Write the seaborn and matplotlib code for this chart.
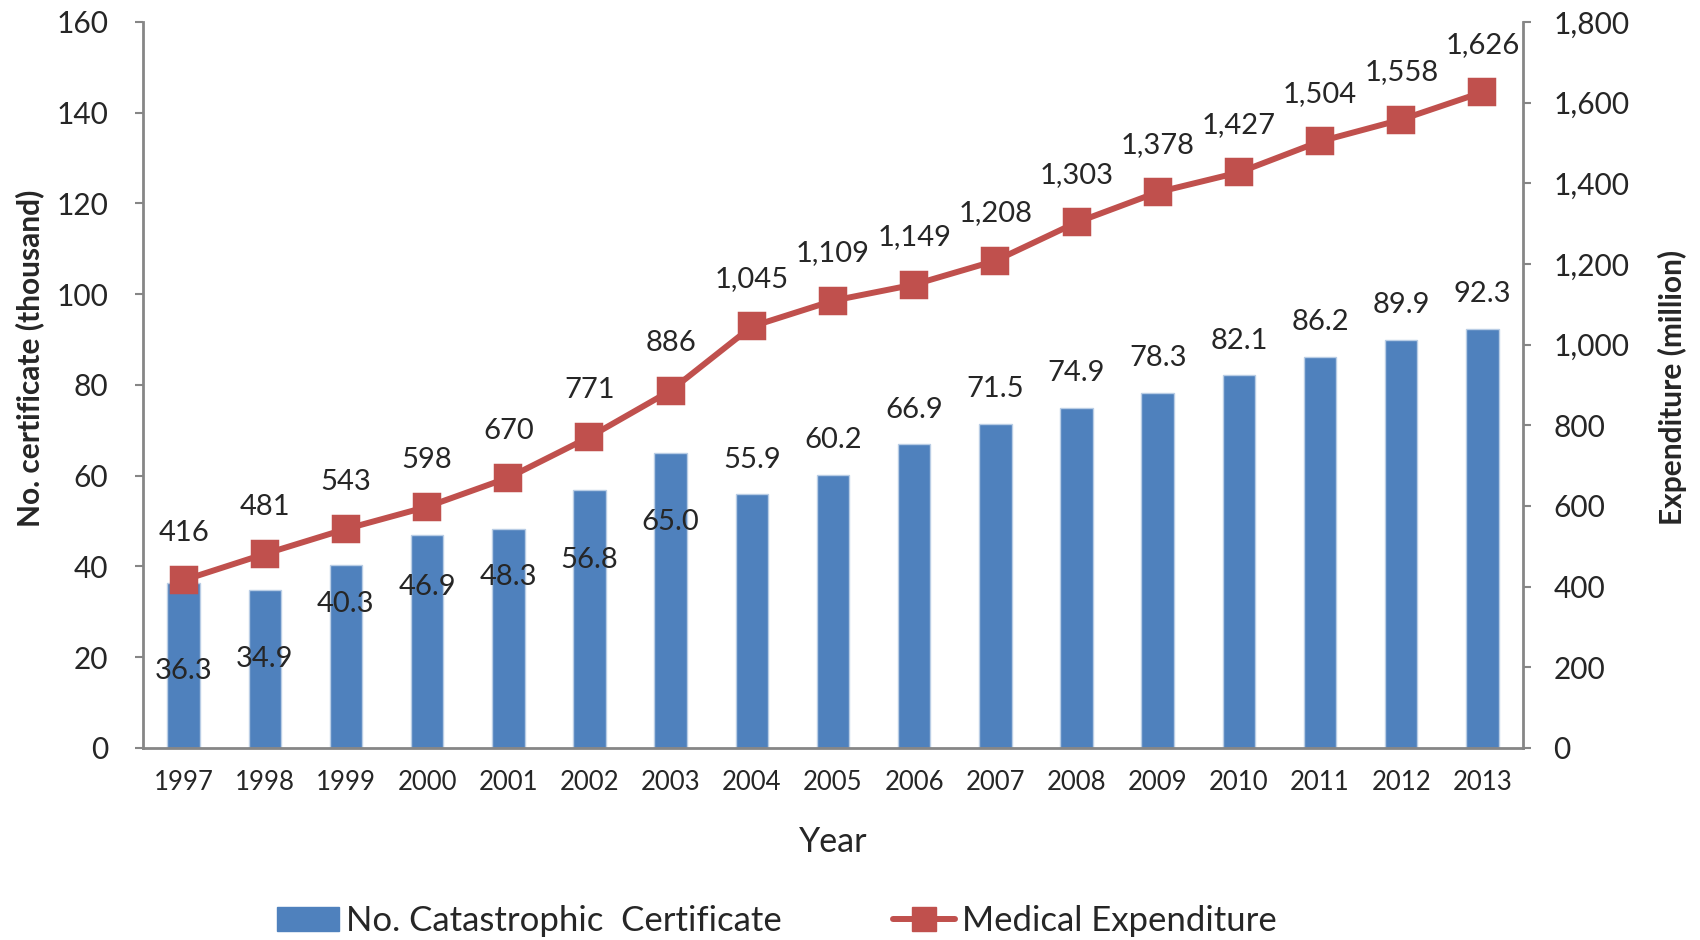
import numpy as np
import pandas as pd
import seaborn as sns
import matplotlib.pyplot as plt
from matplotlib.patches import Patch
from matplotlib.lines import Line2D
from matplotlib.ticker import FuncFormatter, FixedLocator

# chart values
years = ['1997', '1998', '1999', '2000', '2001', '2002', '2003', '2004', '2005',
         '2006', '2007', '2008', '2009', '2010', '2011', '2012', '2013']
certificates = [36.3, 34.9, 40.3, 46.9, 48.3, 56.8, 65.0, 55.9, 60.2,
                66.9, 71.5, 74.9, 78.3, 82.1, 86.2, 89.9, 92.3]
expenditure = [416, 481, 543, 598, 670, 771, 886, 1045, 1109,
               1149, 1208, 1303, 1378, 1427, 1504, 1558, 1626]

# where the bar labels sit relative to the bar top (points, negative = below)
bar_label_offset = [-63, -50, -28, -37, -35, -50, -50, 25, 25,
                    25, 25, 25, 25, 25, 25, 25, 25]

blue = '#4F81BD'
red = '#C0504D'
grey = '#868686'

sns.set_style('white')
plt.rcParams['font.family'] = ['Lato', 'DejaVu Sans']

df = pd.DataFrame({'year': years, 'cert': certificates, 'exp': expenditure})

fig = plt.figure(figsize=(17, 9.4), dpi=100)
ax = fig.add_axes([0.0841, 0.2043, 0.8118, 0.7723])

sns.barplot(data=df, x='year', y='cert', color=blue, saturation=1, width=0.4,
            edgecolor='#B9CDE5', linewidth=1, ax=ax)

ax2 = ax.twinx()
sns.pointplot(data=df, x='year', y='exp', color=red, markers='s', markersize=17,
              linewidth=4.3, ax=ax2)

ax.set_xlim(-0.5, 16.5)
ax.set_ylim(0, 160)
ax2.set_ylim(0, 1800)
ax.set_yticks(np.arange(0, 161, 20))
ax2.set_yticks(np.arange(0, 1801, 200))
ax2.yaxis.set_major_formatter(FuncFormatter(lambda v, p: f'{int(v):,}'))

# category boundary ticks like excel
ax.set_xticks(range(len(years)))
ax.set_xticklabels(years)
ax.xaxis.set_minor_locator(FixedLocator(np.arange(-0.5, 17, 1)))
ax.tick_params(axis='x', which='major', length=0, pad=16, labelsize=18.5)
ax.tick_params(axis='x', which='minor', length=7, width=1.5, color=grey, direction='out')
ax.tick_params(axis='y', length=6, width=1.5, color=grey, direction='out', pad=19, labelsize=21.5, left=True)
ax2.tick_params(axis='y', length=6, width=1.5, color=grey, direction='out', pad=16, labelsize=21.5, right=True)

for a in (ax, ax2):
    a.spines['top'].set_visible(False)
    for s in a.spines.values():
        s.set_color(grey)
        s.set_linewidth(2)
ax.spines['right'].set_visible(False)
ax2.spines['left'].set_visible(False)
ax2.spines['bottom'].set_visible(False)

ax.set_xlabel('Year', fontsize=24.5, labelpad=22)
ax.set_ylabel('No. certificate (thousand)', fontsize=21.5, fontweight='bold')
ax2.set_ylabel('Expenditure (million)', fontsize=21.5, fontweight='bold')
ax.yaxis.set_label_coords(-0.0717, 0.537)
ax2.yaxis.set_label_coords(1.098, 0.497)

# data labels
for i, v in enumerate(certificates):
    ax.annotate(f'{v:.1f}', (i, v), xytext=(0, bar_label_offset[i]), textcoords='offset points',
                ha='center', va='center', fontsize=21)
for i, v in enumerate(expenditure):
    ax2.annotate(f'{v:,}', (i, v), xytext=(0, 34), textcoords='offset points',
                 ha='center', va='center', fontsize=21)

handles = [Patch(facecolor=blue, edgecolor=blue),
           Line2D([0], [0], color=red, lw=4.3, marker='s', markersize=17)]
fig.legend(handles, ['No. Catastrophic  Certificate', 'Medical Expenditure'],
           loc='center', bbox_to_anchor=(0.457, 0.02), ncol=2, frameon=False,
           prop={'size': 25},
           handlelength=1.8, handletextpad=0.2, columnspacing=3.2)

plt.savefig('out.png', dpi=100)
